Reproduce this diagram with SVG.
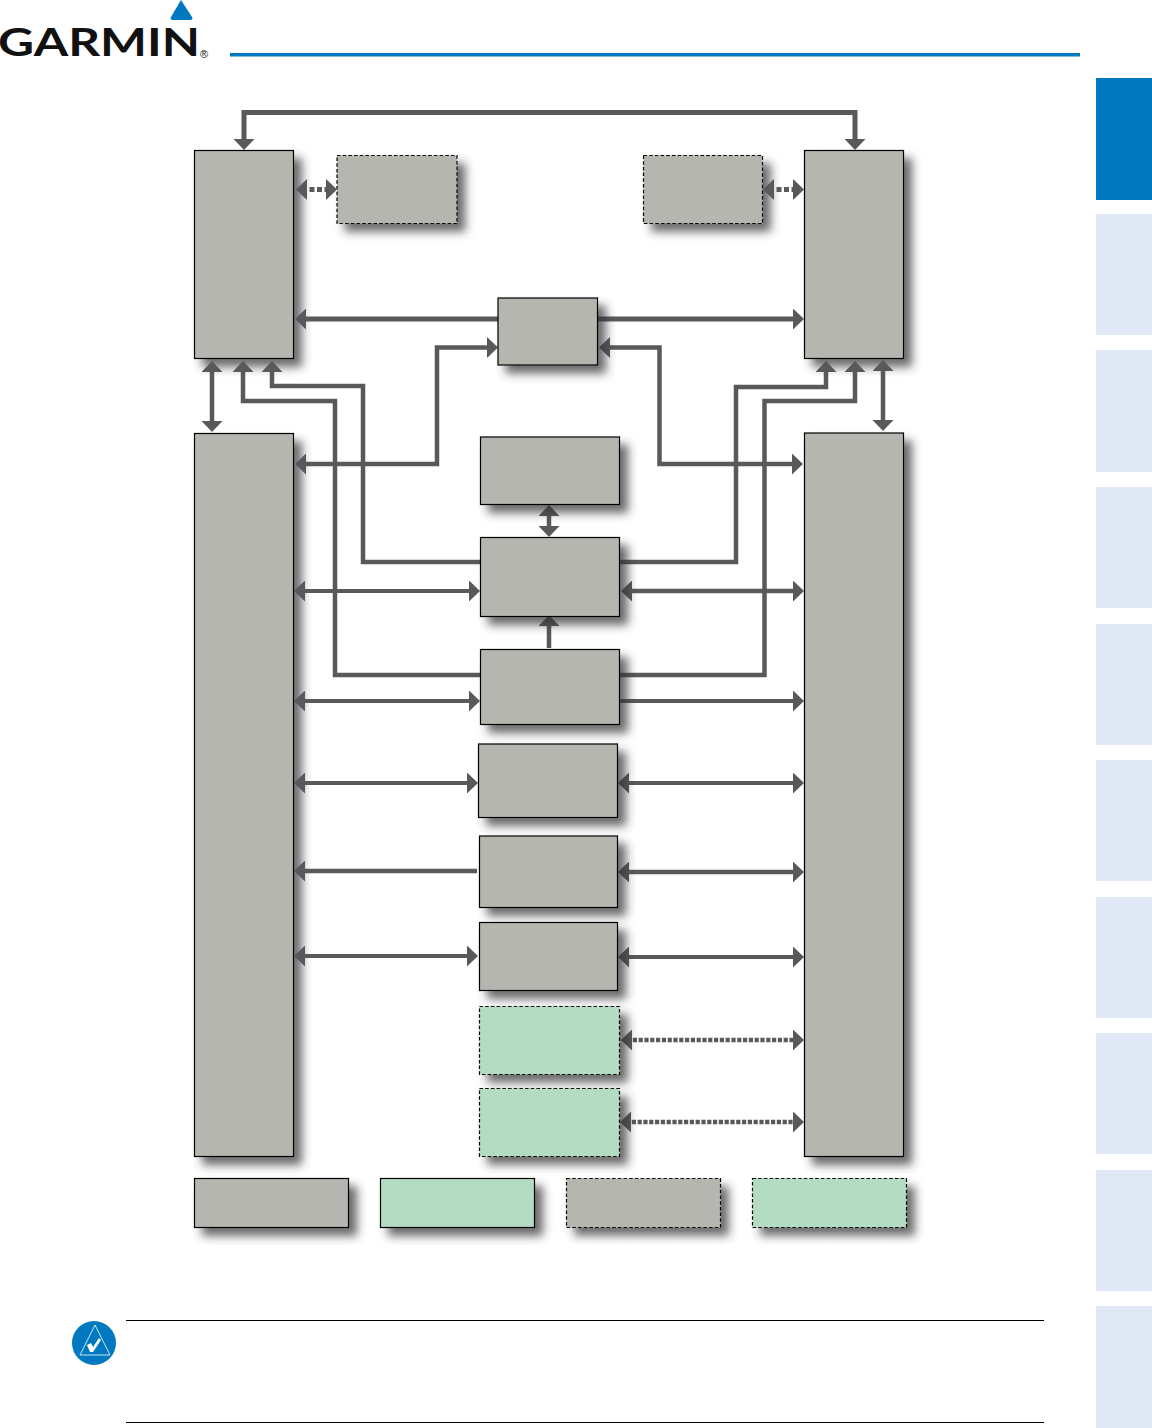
<svg xmlns="http://www.w3.org/2000/svg" width="1152" height="1428" viewBox="0 0 1152 1428">
<style>
.g{fill:#b5b6b0;stroke:#000;stroke-width:1.2;filter:url(#sh)}
.t{fill:#b4dcc2;stroke:#000;stroke-width:1.2;filter:url(#sh)}
.d{stroke-dasharray:3.5 2.2}
.tab{fill:#e0e7f5}
.c path{fill:none;stroke:#58595b;stroke-width:4.5;stroke-linejoin:miter;marker-start:url(#a);marker-end:url(#a)}
.c path.w{stroke-width:5}
.c path.n{stroke-width:4}
.c path.s{marker-start:none}
.c path.o{stroke-dasharray:4.2 1.6;stroke-width:4.5}
.c path.o2{stroke-dasharray:5 2.5;stroke-width:5}
.rule{stroke:#000;stroke-width:1}
</style>
<defs>
<filter id="sh" x="-25%" y="-25%" width="160%" height="160%">
<feDropShadow dx="8" dy="8" stdDeviation="5" flood-color="#333" flood-opacity=".72"/>
</filter>
<marker id="a" markerUnits="userSpaceOnUse" markerWidth="11" markerHeight="21" viewBox="0 0 11 21" refX="5" refY="10.5" orient="auto-start-reverse">
<polygon points="0,0 11,10.5 0,21" fill="#58595b"/>
</marker>
</defs>
<rect width="1152" height="1428" fill="#fff"/>

<g id="header">
<path d="M181,0 L192,17 Q193.500,20 190,20 L173,20 Q169.500,20 171,17 Z" fill="#0079c1"/>
<text x="-2" y="56" font-family="Lato, 'Liberation Sans', sans-serif" font-size="39" font-weight="700" textLength="202" lengthAdjust="spacingAndGlyphs" fill="#111">GARMIN</text>
<text x="200" y="58" font-family="'Liberation Sans', sans-serif" font-size="11" fill="#111">®</text>
<rect x="230" y="53" width="850" height="3.500" fill="#0079c1"/>
</g>

<g id="tabs">
<rect x="1096" y="78" width="56" height="122" fill="#0079c1"/>
<rect class="tab" x="1096" y="214" width="56" height="121"/>
<rect class="tab" x="1096" y="350" width="56" height="122"/>
<rect class="tab" x="1096" y="487" width="56" height="121"/>
<rect class="tab" x="1096" y="624" width="56" height="121"/>
<rect class="tab" x="1096" y="760" width="56" height="121"/>
<rect class="tab" x="1096" y="897" width="56" height="121"/>
<rect class="tab" x="1096" y="1033" width="56" height="121"/>
<rect class="tab" x="1096" y="1170" width="56" height="121"/>
<rect class="tab" x="1096" y="1306" width="56" height="122"/>
</g>

<g id="node-left-top"><rect class="g" x="194.500" y="150.500" width="99" height="208"/></g>
<g id="node-right-top"><rect class="g" x="804.500" y="150.500" width="99" height="208"/></g>
<g id="node-left-dashed"><rect class="g d" x="337" y="155.500" width="120" height="68"/></g>
<g id="node-right-dashed"><rect class="g d" x="643.500" y="155.500" width="119" height="68"/></g>
<g id="node-left-main"><rect class="g" x="194.500" y="433.500" width="99" height="723"/></g>
<g id="node-right-main"><rect class="g" x="804.500" y="433" width="99" height="723.500"/></g>

<g id="connectors" class="c">
<path class="w" d="M244,144 V112.500 H855 V144"/>
<path class="o2" d="M302,189.500 H331"/>
<path class="o2" d="M769,189.500 H798"/>
<path class="w s" d="M498,319 H301"/>
<path class="w s" d="M597,319 H798"/>
<path d="M212,367 V426"/>
<path class="s" d="M481,675 H335 V401 H243 V367"/>
<path class="s" d="M481,562 H363 V386 H272 V367"/>
<path d="M301,464 H437 V347.500 H492"/>
<path d="M605,347.500 H659.500 V464 H797"/>
<path class="s" d="M620,562 H736 V387 H826 V367"/>
<path class="s" d="M620,675 H764.500 V401 H855 V367"/>
<path d="M883,366 V425"/>
<path d="M549,511 V531"/>
<path class="n" d="M300,591 H474"/>
<path d="M627,591 H798"/>
<path class="s" d="M549,648 V621"/>
<path class="n" d="M300,701 H474"/>
<path class="n s" d="M620,701 H798"/>
<path class="n" d="M300,783 H472"/>
<path class="n" d="M624,783 H798"/>
<path class="s" d="M477,871 H300"/>
<path d="M624,872 H798"/>
<path class="n" d="M300,956 H472"/>
<path class="n" d="M624,957 H798"/>
<path class="o" d="M627,1040 H798"/>
<path class="o" d="M626,1122 H798"/>
</g>

<g id="node-center-top"><rect class="g" x="498" y="298" width="99.500" height="67"/></g>
<g id="node-c1"><rect class="g" x="480.500" y="437" width="139" height="67.500"/></g>
<g id="node-c2"><rect class="g" x="480.500" y="537.500" width="139" height="79"/></g>
<g id="node-c3"><rect class="g" x="480.500" y="649.500" width="139" height="75"/></g>
<g id="node-c4"><rect class="g" x="478.500" y="744" width="139" height="73.500"/></g>
<g id="node-c5"><rect class="g" x="479.500" y="836" width="138" height="71.500"/></g>
<g id="node-c6"><rect class="g" x="479.500" y="922.500" width="138" height="68"/></g>
<g id="node-c7"><rect class="t d" x="479.500" y="1006.500" width="140" height="68"/></g>
<g id="node-c8"><rect class="t d" x="479.500" y="1088.500" width="140" height="68"/></g>

<g id="legend-1"><rect class="g" x="194.500" y="1178.500" width="154" height="49"/></g>
<g id="legend-2"><rect class="t" x="380.500" y="1178.500" width="154" height="49"/></g>
<g id="legend-3"><rect class="g d" x="566.500" y="1178.500" width="154" height="49"/></g>
<g id="legend-4"><rect class="t d" x="752.500" y="1178.500" width="154" height="49"/></g>

<g id="note">
<line class="rule" x1="126" y1="1320.500" x2="1044" y2="1320.500"/>
<line class="rule" x1="126" y1="1422.500" x2="1044" y2="1422.500"/>
<circle cx="94" cy="1343" r="22" fill="#0079c1"/>
<path d="M95,1325 L110,1355 H80 Z" fill="none" stroke="#fff" stroke-width=".8"/>
<path d="M87,1345 L91,1343 L93,1347 L99,1338 L101,1340 L93,1352 H90 Z" fill="#fff"/>
</g>
</svg>
